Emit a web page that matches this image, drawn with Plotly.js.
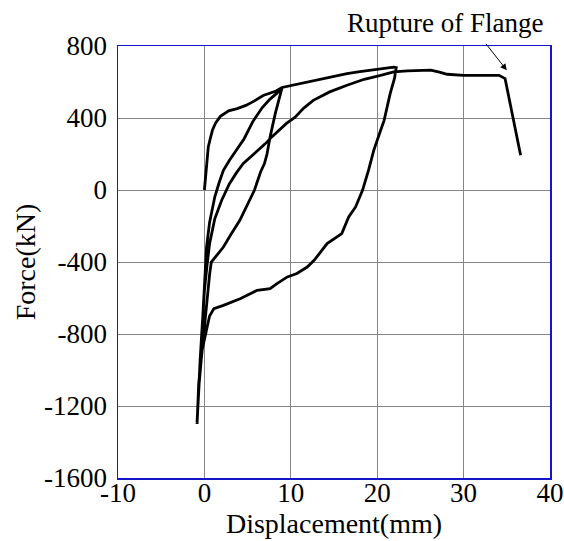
<!DOCTYPE html>
<html>
<head>
<meta charset="utf-8">
<script src="https://cdn.plot.ly/plotly-3.0.1.min.js"></script>
<style>html,body{margin:0;padding:0;background:#fff;}#chart{width:564px;height:541px;}</style>
</head>
<body>
<div id="chart"></div>
<script>
// Hysteresis path, in loading order (displacement mm, force kN)
const disp = [
  // first loading to peak 1
  0, 0.2, 0.45, 0.7, 0.95, 1.3, 1.85, 2.8, 3.8, 4.8, 5.8, 6.8, 7.6, 8.3, 9.0,
  // unloading from peak 1
  8.8, 8.5, 8.2, 7.6, 7.25, 6.95, 6.5, 5.8, 5.2, 4.1, 3.1, 2.2, 1.4, 0.8,
  0.6, 0.45, 0.2, -0.1, -0.4, -0.65, -0.85,
  // reloading through peak 1 to peak 2
  -0.7, -0.5, -0.3, -0.1, 0.05, 0.25, 0.6, 1.2, 1.7, 2.2, 2.9, 3.7, 4.6, 5.6, 6.7, 7.6, 8.4, 9.0,
  10.0, 11.0, 12.6, 14.5, 16.5, 18.0, 19.6, 20.8, 21.9, 22.2,
  // unloading from peak 2
  22.0, 21.5, 20.8, 20.4, 20.0, 19.6, 19.0, 18.3, 17.5, 16.7, 15.9, 14.2, 12.7, 11.9, 10.7, 9.6, 8.4, 7.6, 6.1, 4.2, 2.2, 1.1,
  0.6, 0.3, -0.27, -0.66, -0.85,
  // final loading to rupture
  -0.7, -0.5, -0.25, 0.0, 0.3, 0.6, 1.2, 2.0, 2.9, 3.7, 4.5, 5.4, 6.2, 7.0, 7.8, 8.6, 9.5, 10.5, 11.5, 12.6,
  14.5, 16.5, 18.5, 20.4, 21.9, 23.5, 25.0, 26.2, 27.2, 28.1, 30.0, 31.9, 33.0, 34.1, 34.8, 36.6
];
const force = [
  0, 100, 239, 290, 335, 372, 409, 440, 452, 470, 495, 525, 540, 550, 570,
  535, 480, 424, 294, 200, 147, 100, 0, -57, -168, -245, -317, -365, -400,
  -470, -540, -680, -820, -960, -1100, -1290,
  -1150, -980, -800, -620, -480, -316, -180, -39, 40, 109, 165, 220, 285, 380, 458, 505, 538, 570,
  580, 592, 609, 628, 647, 658, 669, 676, 683, 680,
  620, 535, 387, 332, 275, 220, 110, -2, -94, -150, -242, -298, -391, -428, -464, -483, -520, -548, -557, -603, -641, -659,
  -700, -761, -890, -1075, -1300,
  -1140, -950, -750, -560, -420, -298, -160, -57, 35, 95, 147, 185, 220, 255, 295, 332, 370, 405, 455, 498,
  545, 582, 615, 637, 656, 662, 665, 666, 655, 643, 637, 637, 640, 637, 619, 193
];
const xTicks = [-10, 0, 10, 20, 30, 40];
const xTickText = ['-10', '0', '10', '20', '30', '40'];
const yTicks = [-1600, -1200, -800, -400, 0, 400, 800];
const yTickText = ['-1600', '-1200', '-800', '-400', '0', '400', '800'];
const xTitle = 'Displacement(mm)';
const yTitle = 'Force(kN)';
const noteText = 'Rupture of Flange';
const notePoint = [35.0, 665];

const serif = 'Liberation Serif, Times New Roman, serif';
const frame = 'rgb(20,20,200)';
const grid = '#858585';

const trace = {
  x: disp, y: force, type: 'scatter', mode: 'lines',
  line: {color: '#000', width: 2.8, shape: 'linear'},
  hoverinfo: 'skip'
};

const layout = {
  width: 564, height: 541,
  margin: {l: 118, r: 14, t: 46, b: 63},
  paper_bgcolor: '#fff', plot_bgcolor: '#fff',
  showlegend: false,
  xaxis: {
    range: [-10, 40], tickmode: 'array', tickvals: xTicks, ticktext: xTickText,
    showgrid: true, gridcolor: grid, gridwidth: 1, zeroline: false,
    showline: true, linecolor: frame, linewidth: 1.5, mirror: true,
    ticks: '', ticklabelstandoff: -10,
    tickfont: {family: serif, size: 27, color: '#000'},
    title: {text: xTitle, font: {family: serif, size: 28, color: '#000'}, standoff: 6}
  },
  yaxis: {
    range: [-1600, 800], tickmode: 'array', tickvals: yTicks, ticktext: yTickText,
    showgrid: true, gridcolor: grid, gridwidth: 1, zeroline: false,
    showline: true, linecolor: frame, linewidth: 1.5, mirror: true,
    ticks: '', ticklabelstandoff: 4,
    tickfont: {family: serif, size: 27, color: '#000'},
    title: {text: yTitle, font: {family: serif, size: 28, color: '#000'}, standoff: 0}
  },
  annotations: [
    {
      x: notePoint[0], y: notePoint[1], xref: 'x', yref: 'y',
      ax: -22, ay: -28, showarrow: true, arrowhead: 2, arrowsize: 1.3, arrowwidth: 1,
      arrowcolor: '#000', text: ''
    },
    {
      x: 0.757, y: 1.053, xref: 'paper', yref: 'paper', xanchor: 'center', yanchor: 'middle',
      showarrow: false, text: noteText,
      font: {family: serif, size: 27, color: '#000'}
    }
  ]
};

Plotly.newPlot('chart', [trace], layout, {staticPlot: true, displayModeBar: false});
</script>
</body>
</html>
